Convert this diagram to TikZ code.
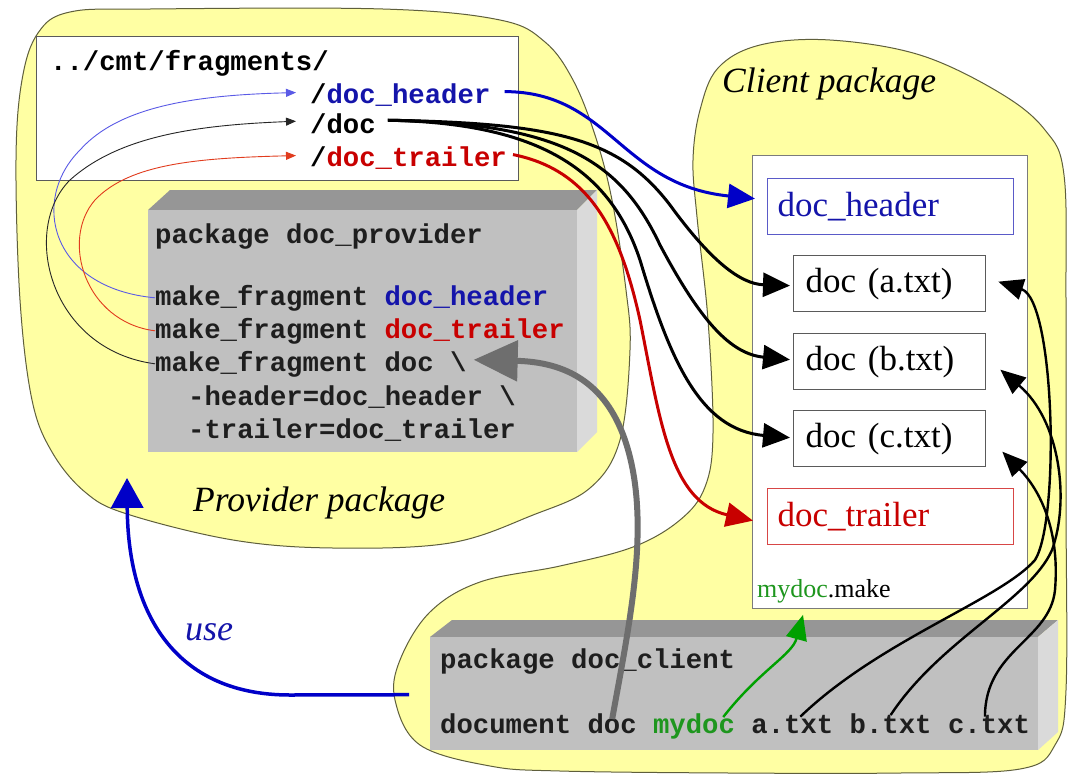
\documentclass[tikz,border=0pt]{standalone}
\usepackage{fontspec}
\setmainfont{Liberation Serif}
\setmonofont{Liberation Mono}
\usetikzlibrary{arrows.meta,calc}
\definecolor{blobfill}{RGB}{255,255,163}
\definecolor{blobline}{RGB}{95,95,60}
\definecolor{hblue}{RGB}{20,20,170}
\definecolor{hbluebox}{RGB}{90,90,200}
\definecolor{tred}{RGB}{200,0,0}
\definecolor{tredbox}{RGB}{215,70,70}
\definecolor{tgreen}{RGB}{30,150,30}
\definecolor{agreen}{RGB}{0,160,0}
\definecolor{gfront}{RGB}{192,192,192}
\definecolor{gtop}{RGB}{150,150,150}
\definecolor{gside}{RGB}{218,218,218}
\definecolor{garrow}{RGB}{110,110,110}
\definecolor{ablue}{RGB}{0,0,200}
\definecolor{tblue}{RGB}{90,90,230}
\definecolor{torange}{RGB}{225,60,30}
\definecolor{boxline}{RGB}{90,90,90}
\definecolor{monotext}{RGB}{30,30,30}
\begin{document}
\begin{tikzpicture}[x=1pt,y=-1pt,
  mono/.style={font=\fontsize{27.3}{33}\selectfont\ttfamily\bfseries, text=monotext, inner sep=0pt, anchor=base west},
  monob/.style={font=\fontsize{27.3}{33}\selectfont\ttfamily\bfseries, inner sep=0pt, anchor=base west},
  blob/.style={fill=blobfill, draw=blobline, line width=1pt},
  sbox/.style={font=\fontsize{35}{40}\selectfont, minimum height=56pt, inner xsep=10pt, inner ysep=0pt, align=left, line width=1.3pt, anchor=north west, fill=white},
  ital/.style={font=\fontsize{35.5}{40}\selectfont\itshape, inner sep=0pt, anchor=base west},
  thickarrow/.style={line width=3pt, -{Triangle[length=27pt,width=24pt]}},
  medarrow/.style={line width=2.4pt, -{Triangle[length=25pt,width=21pt]}},
  thinarrow/.style={line width=0.9pt, -{Triangle[length=10pt,width=8pt]}}
]
\useasboundingbox (0,0) rectangle (1068,777);
\fill[white] (0,0) rectangle (1068,777);

% provider blob
\draw[blob] plot[smooth cycle, tension=0.6] coordinates {
 (20,300) (32,400) (52,452) (85,492) (127,514) (233,540) (333,548) (450,543)
 (533,515) (590,488) (620,440) (630,350) (626,290) (612,200) (595,135) (573,80)
 (545,42) (500,20) (383,9) (150,9) (70,12) (38,33) (22,80) (16,160)};
% client blob
\draw[blob] plot[smooth cycle, tension=0.6] coordinates {
 (760,45) (830,40) (920,55) (1000,93) (1045,130) (1064,175) (1066,300) (1066,500)
 (1066,690) (1055,745) (1020,769) (900,773) (730,773) (560,771) (490,766) (420,745)
 (395,700) (400,660) (430,612) (480,582) (560,566) (633,547) (680,520) (705,487)
 (713,433) (708,320) (697,217) (693,160) (700,110) (718,68)};

% fragments box
\node[draw=boxline, line width=1.4pt, fill=white, minimum width=482pt, minimum height=144pt, anchor=north west, inner sep=0pt] (fragbox) at (36,36) {};
\node[monob] (frag) at (50,70) {../cmt/fragments/};
\node[monob] (fh) at (310,103) {/\textcolor{hblue}{doc\_header}};
\node[monob] (fd) at (310,133) {/doc};
\node[monob] (ft) at (310,166) {/\textcolor{tred}{doc\_trailer}};

% provider 3D box
\fill[gtop] (148,210) -- (170,190) -- (597,190) -- (577,210) -- cycle;
\fill[gside] (577,210) -- (597,190) -- (597,432) -- (577,452) -- cycle;
\node[fill=gfront, minimum width=429pt, minimum height=242pt, anchor=north west, inner sep=0pt] (prov) at (148,210) {};
\node[mono] (pt) at (155,243) {package doc\_provider};
\node[mono] (pmh) at (155,305) {make\_fragment \textcolor{hblue}{doc\_header}};
\node[mono] (pmt) at (155,338) {make\_fragment \textcolor{tred}{doc\_trailer}};
\node[mono] (pmd) at (155,371) {make\_fragment doc \textbackslash};
\node[mono] (pmo1) at (188,405) {-header=doc\_header \textbackslash};
\node[mono] (pmo2) at (188,438) {-trailer=doc\_trailer};
\node[ital] (provlab) at (193,511) {Provider package};

% client panel
\node[ital] (clilab) at (722,92) {Client package};
\node[draw=boxline!80, line width=1.4pt, fill=white, minimum width=275pt, minimum height=453pt, anchor=north west, inner sep=0pt] (panel) at (752,155) {};
\node[sbox, draw=hbluebox, text=hblue, minimum width=246pt, text width=226pt] (dh) at (767,178) {doc\_header};
\node[sbox, draw=boxline, inner xsep=12pt, minimum width=192pt, text width=168pt] (da) at (793,255) {doc (a.txt)};
\node[sbox, draw=boxline, inner xsep=12pt, minimum width=192pt, text width=168pt] (db) at (793,333) {doc (b.txt)};
\node[sbox, draw=boxline, inner xsep=12pt, minimum width=192pt, text width=168pt] (dc) at (793,410) {doc (c.txt)};
\node[sbox, draw=tredbox, text=tred, minimum width=246pt, text width=226pt] (dt) at (767,488) {doc\_trailer};
\node[font=\fontsize{26}{30}\selectfont, inner sep=0pt, anchor=base west] (mk) at (757,597) {\textcolor{tgreen}{mydoc}.make};

% client 3D box
\fill[gtop] (430,637) -- (452,620) -- (1058,620) -- (1038,637) -- cycle;
\fill[gside] (1038,637) -- (1058,620) -- (1058,732) -- (1038,750) -- cycle;
\node[fill=gfront, minimum width=608pt, minimum height=113pt, anchor=north west, inner sep=0pt] (cbox) at (430,637) {};
\node[mono] (ct) at (440,668) {package doc\_client};
\node[mono] (wdocument) at (440,733) {document};
\node[mono] (wdoc) at (587.4,733) {doc};
\node[mono, text=tgreen] (wmy) at (652.9,733) {mydoc};
\node[mono] (wa) at (751.2,733) {a.txt};
\node[mono] (wb) at (849.5,733) {b.txt};
\node[mono] (wc) at (947.8,733) {c.txt};
\node[font=\fontsize{36}{40}\selectfont\itshape, text=hblue, inner sep=0pt, anchor=base west] (uselab) at (185,640) {use};
\coordinate (usetip) at (127,478);

% thin fragment arrows (left)
\draw[tblue, thinarrow] (pmh.west) .. controls (50,288) and (30,200) .. (80,150) .. controls (120,105) and (200,95) .. ($(fh.west)+(-14,-2)$);
\draw[torange, thinarrow] (pmt.west) .. controls (85,322) and (60,240) .. (95,200) .. controls (130,163) and (200,158) .. ($(ft.west)+(-14,-2)$);
\draw[black!85, thinarrow] (pmd.west) .. controls (50,350) and (20,230) .. (70,180) .. controls (120,135) and (200,125) .. ($(fd.west)+(-14,-2)$);

% thick arrows to the makefile
\draw[ablue, thickarrow] ($(fh.east)+(14,-3)$) .. controls (610,92) and (620,185) .. ($(dh.west)+(-12,-8)$);
\draw[black, thickarrow] ($(fd.east)+(12,-3)$) .. controls (560,123) and (620,140) .. (670,205) .. controls (710,260) and (740,284) .. ($(da.west)+(-3,2)$);
\draw[black, thickarrow] ($(fd.east)+(12,-3)$) .. controls (560,123) and (620,160) .. (660,245) .. controls (700,320) and (730,354) .. ($(db.west)+(-3,-2)$);
\draw[black, thickarrow] ($(fd.east)+(12,-3)$) .. controls (540,123) and (610,170) .. (640,260) .. controls (670,360) and (700,430) .. ($(dc.west)+(-3,-1)$);
\draw[tred, thickarrow] ($(ft.east)+(6,-3)$) .. controls (590,170) and (620,230) .. (640,320) .. controls (660,420) and (670,502) .. ($(dt.west)+(-14,4)$);

% gray arrow from document doc
\draw[garrow, line width=6pt, -{Triangle[length=44pt,width=40pt]}] ($(wdoc.north)+(0,6)$) .. controls (630,620) and (652,520) .. (625,440) .. controls (605,382) and (565,362) .. ($(pmd.east)+(7,-4)$);

% green arrow
\draw[agreen, medarrow] ($(wmy.north east)+(-12,4)$) .. controls (760,670) and (792,655) .. ($(mk.south west)+(46,12)$);

% txt arrows
\draw[black, medarrow] ($(wa.north)+(8,2)$) .. controls (880,640) and (1000,600) .. (1035,560) .. controls (1060,520) and (1055,300) .. ($(da.east)+(12,-2)$);
\draw[black, medarrow] ($(wb.north)+(0,2)$) .. controls (940,640) and (1030,600) .. (1052,550) .. controls (1070,500) and (1060,420) .. ($(db.east)+(14,8)$);
\draw[black, medarrow] ($(wc.north)+(-4,2)$) .. controls (985,650) and (1050,640) .. (1055,590) .. controls (1060,530) and (1040,490) .. ($(dc.east)+(16,13)$);

% use arrow
\draw[ablue, line width=3.5pt, -{Triangle[length=30pt,width=32pt]}] ($(cbox.west)+(-21,1)$) -- (290,695) .. controls (180,695) and (128,620) .. (usetip);
\end{tikzpicture}
\end{document}
